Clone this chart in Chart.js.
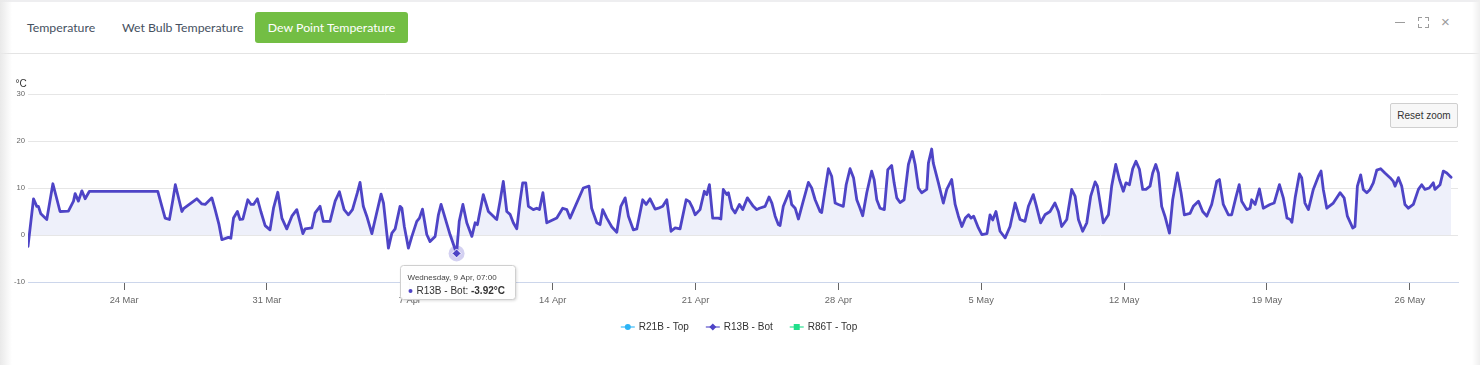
<!DOCTYPE html>
<html>
<head>
<meta charset="utf-8">
<script src="https://cdn.jsdelivr.net/npm/chart.js@4.4.1/dist/chart.umd.min.js"></script>
<style>
html,body{margin:0;padding:0;width:1480px;height:365px;overflow:hidden;background:#fff;}
#leftShade{position:absolute;left:0;top:0;width:12px;height:365px;background:linear-gradient(to right,#e9e9e9,rgba(255,255,255,0));}
#rightShade{position:absolute;right:0;top:0;width:8px;height:365px;background:linear-gradient(to left,#efefef,rgba(255,255,255,0));}
#topShade{position:absolute;left:0;top:0;width:1480px;height:2px;background:#eeeef0;}
#header{position:absolute;left:0;top:0;width:1480px;height:53px;border-bottom:1px solid #e4e4e4;font-family:Lato,"Open Sans",sans-serif;}
.tab{position:absolute;top:12px;height:31px;line-height:31px;font-size:12.3px;color:#46515f;white-space:nowrap;}
.tab.active{background:#73be44;color:#fff;border-radius:3px;text-align:center;}
.icon{position:absolute;}
#cv{position:absolute;left:0;top:0;}
#reset{position:absolute;left:1390px;top:103px;width:66px;height:23px;border:1px solid #cfcfcf;border-radius:2px;background:#f7f7f7;font:10px "Liberation Sans",Arial,sans-serif;color:#333;text-align:center;line-height:23px;}
</style>
</head>
<body>
<div id="topShade"></div>
<div id="header">
  <div class="tab" style="left:27px;">Temperature</div>
  <div class="tab" style="left:122px;">Wet Bulb Temperature</div>
  <div class="tab active" style="left:255px;width:153px;">Dew Point Temperature</div>
  <div class="icon" style="left:1395px;top:22px;width:10px;height:1px;background:#9c9c9c;"></div>
  <div class="icon" style="left:1418px;top:17px;width:3px;height:3px;border-left:1px solid #9c9c9c;border-top:1px solid #9c9c9c;"></div>
  <div class="icon" style="left:1425px;top:17px;width:3px;height:3px;border-right:1px solid #9c9c9c;border-top:1px solid #9c9c9c;"></div>
  <div class="icon" style="left:1418px;top:24px;width:3px;height:3px;border-left:1px solid #9c9c9c;border-bottom:1px solid #9c9c9c;"></div>
  <div class="icon" style="left:1425px;top:24px;width:3px;height:3px;border-right:1px solid #9c9c9c;border-bottom:1px solid #9c9c9c;"></div>
  <div class="icon" style="left:1441px;top:13px;font:15px 'Liberation Sans',Arial;color:#9c9c9c;">×</div>
</div>
<div id="leftShade"></div>
<div id="rightShade"></div>
<canvas id="cv" width="1480" height="365"></canvas>
<div id="reset">Reset zoom</div>
<script>
// ---- data (x = days after 24 Mar 00:00) ----
const times = [
-4.71,-4.44,-4.28,-4.20,-4.08,-3.79,-3.49,-3.14,-2.73,-2.48,-2.40,-2.24,-2.07,-1.91,-1.70,
1.65,1.85,2.01,2.22,2.39,2.51,2.83,2.91,3.56,3.81,3.97,4.30,4.46,4.65,4.79,5.11,5.23,5.36,5.55,5.68,5.82,
6.06,6.22,6.34,6.53,6.70,6.91,7.15,7.32,7.53,7.73,7.97,8.22,8.46,8.76,8.87,9.20,9.36,9.60,9.76,10.09,
10.34,10.55,10.78,10.99,11.19,11.43,11.56,11.72,11.89,12.14,12.30,12.59,12.71,12.95,13.12,13.28,13.52,13.61,
13.73,13.93,14.10,14.34,14.47,14.62,14.83,14.99,15.24,15.40,15.53,15.73,15.97,16.29,16.42,16.60,16.79,17.04,
17.20,17.31,17.60,17.85,18.18,18.26,18.42,18.58,18.75,18.91,19.07,19.24,19.40,19.53,19.68,19.81,20.05,20.22,
20.35,20.52,20.71,21.20,21.49,21.69,21.85,22.50,22.78,22.91,23.16,23.32,23.45,23.65,23.90,24.14,24.34,24.55,
24.71,24.95,25.12,25.41,25.58,25.77,26.02,26.18,26.39,26.59,26.80,27.00,27.24,27.54,27.70,27.86,27.98,28.22,
28.43,28.55,28.68,28.84,29.12,29.24,29.36,29.53,29.61,29.78,29.94,30.15,30.31,30.54,30.83,31.00,31.13,31.41,
31.60,31.74,31.90,32.06,32.14,32.30,32.60,32.71,32.88,33.04,33.25,33.53,33.69,33.86,34.10,34.18,34.35,34.51,
34.67,34.84,35.00,35.24,35.38,35.57,35.74,35.90,36.06,36.19,36.39,36.63,36.75,36.88,37.04,37.25,37.42,37.61,
37.73,37.86,38.02,38.22,38.43,38.62,38.76,38.92,39.08,39.33,39.41,39.57,39.65,39.90,40.14,40.31,40.55,40.72,
40.88,41.05,41.22,41.38,41.50,41.63,41.86,42.03,42.28,42.43,42.56,42.72,42.92,43.17,43.41,43.66,43.90,44.14,
44.31,44.55,44.68,44.91,45.12,45.37,45.61,45.78,45.94,46.19,46.43,46.60,46.76,46.97,47.17,47.36,47.58,47.69,
47.98,48.23,48.39,48.59,48.77,48.96,49.09,49.26,49.42,49.58,49.75,49.91,50.07,50.27,50.40,50.55,50.68,50.84,
51.00,51.22,51.38,51.61,51.79,51.95,52.23,52.39,52.64,52.85,53.05,53.29,53.54,53.67,53.86,54.11,54.27,54.47,
54.64,54.76,55.01,55.17,55.25,55.42,55.63,55.82,55.99,56.15,56.35,56.61,56.80,56.98,57.14,57.22,57.38,57.59,
57.70,57.86,58.03,58.27,58.52,58.65,58.76,58.93,59.25,59.58,59.78,59.94,60.20,60.31,60.43,60.59,60.72,60.89,
61.05,61.21,61.38,61.57,61.78,62.03,62.19,62.28,62.44,62.60,62.76,62.93,63.17,63.42,63.58,63.74,63.95,64.15,
64.23,64.48,64.64,64.81,65.02
];
const dewR13B = [
-2.4,7.7,6.1,6.1,4.5,3.3,10.9,5.0,5.1,7.2,8.8,7.2,9.4,7.7,9.3,
9.3,6.1,3.6,3.3,7.5,10.7,5.0,5.6,7.7,6.6,6.5,7.9,5.4,2.2,-1.0,-0.5,-0.7,3.6,5.0,3.3,3.4,
7.5,6.5,6.5,7.7,5.0,2.0,1.1,5.7,9.1,3.6,1.3,4.0,5.4,0.3,1.3,1.5,4.7,6.1,2.9,2.9,
7.2,9.2,5.4,4.3,5.4,9.0,11.2,6.1,4.0,0.3,3.3,8.7,6.8,-2.8,0.4,1.3,6.1,5.7,
1.8,-2.8,-0.3,2.9,3.6,5.5,0.1,-1.4,-0.3,4.3,6.5,3.6,0.1,-3.92,2.9,6.5,2.6,-0.3,
2.6,2.2,8.6,5.0,3.6,3.3,7.2,11.4,5.0,4.4,2.6,1.3,7.2,11.1,11.1,6.1,5.4,5.7,
5.4,9.0,2.6,3.6,5.7,5.4,3.6,10.0,10.4,5.7,2.6,2.2,5.4,3.6,1.7,0.6,6.1,7.9,
4.0,1.1,1.3,7.5,6.5,7.7,5.5,5.7,6.1,7.5,0.8,1.5,1.3,7.5,7.1,5.7,4.3,5.4,
9.3,8.6,10.7,3.6,3.6,3.4,9.7,8.6,9.0,5.7,4.7,6.5,5.4,7.9,6.1,5.4,5.7,6.1,
8.1,6.8,4.0,2.2,2.0,6.1,9.3,6.5,5.7,3.4,6.8,11.2,10.0,7.5,5.0,4.8,9.7,14.1,
12.5,6.8,6.5,6.1,10.7,14.1,12.2,7.5,5.7,4.1,9.0,13.6,11.8,7.5,5.7,5.4,13.9,14.8,
11.1,7.9,6.9,7.5,15.0,17.8,15.0,10.0,9.0,9.7,15.3,18.3,15.3,11.1,6.8,9.7,11.8,6.5,
4.0,1.8,3.6,4.3,3.6,4.0,1.5,0.1,0.3,4.3,3.2,5.0,0.8,-0.6,1.8,6.8,3.3,2.9,
6.1,8.6,6.5,2.6,4.3,5.0,6.8,5.0,1.8,3.3,9.7,8.2,3.3,0.8,2.6,8.2,11.3,10.4,
2.6,4.3,10.4,15.0,11.8,9.3,11.1,10.7,14.1,15.7,14.0,9.7,9.7,10.4,13.2,15.0,13.2,6.1,
4.0,0.4,7.5,13.2,9.0,4.3,4.6,6.1,7.2,5.0,4.0,6.5,11.4,11.8,6.5,4.3,4.3,7.9,
10.7,7.2,5.4,5.7,7.5,6.5,9.8,5.7,6.1,6.5,6.8,10.7,7.9,3.6,3.3,2.7,7.9,13.0,
12.2,6.8,5.4,9.7,12.5,13.6,9.7,5.7,6.8,9.0,7.9,4.0,1.5,1.8,10.4,12.8,9.7,9.0,
9.7,11.1,13.8,14.1,13.2,12.2,11.4,10.4,12.2,10.4,6.5,5.7,6.5,9.7,10.7,9.7,10.0,11.1,
9.7,10.7,13.6,13.2,12.3
];
const dewR21B = [];   // hidden behind R13B (inactive series)
const dewR86T = [];   // hidden behind R13B (inactive series)
const seriesNames = ['R21B - Top', 'R13B - Bot', 'R86T - Top'];
const seriesColors = ['#2cb4f6', '#4e44c6', '#1fdf8a'];
const seriesMarkers = ['circle', 'diamond', 'square'];
const yTicks = [-10, 0, 10, 20, 30];
const xTickDays = [0, 7, 14, 21, 28, 35, 42, 49, 56, 63];
const xTickLabels = ['24 Mar', '31 Mar', '7 Apr', '14 Apr', '21 Apr', '28 Apr', '5 May', '12 May', '19 May', '26 May'];
const yUnit = '°C';
const hoverIndex = times.indexOf(16.29);
const hoverTitle = 'Wednesday, 9 Apr, 07:00';

const FONT = '"Liberation Sans", Arial, sans-serif';
function toXY(t, v) { return t.map((x, i) => ({ x: x, y: v[i] })); }

function drawMarker(ctx, kind, x, y, r, color) {
  ctx.fillStyle = color;
  ctx.beginPath();
  if (kind === 'circle') ctx.arc(x, y, r, 0, Math.PI * 2);
  else if (kind === 'diamond') { ctx.moveTo(x, y - r); ctx.lineTo(x + r, y); ctx.lineTo(x, y + r); ctx.lineTo(x - r, y); ctx.closePath(); }
  else ctx.rect(x - r, y - r, 2 * r, 2 * r);
  ctx.fill();
}

const extras = {
  id: 'extras',
  afterDraw(chart) {
    const ctx = chart.ctx;
    ctx.save();
    ctx.font = '10px ' + FONT; ctx.fillStyle = '#333'; ctx.textBaseline = 'middle'; ctx.textAlign = 'left';
    ctx.fillText(yUnit, 15.5, 84);
    ctx.font = '10px ' + FONT;
    const widths = seriesNames.map(n => ctx.measureText(n).width);
    const symW = 14, gapT = 4, gapI = 17;
    const total = widths.reduce((s, w) => s + symW + gapT + w, 0) + gapI * (seriesNames.length - 1);
    let x = 739 - total / 2; const y = 327;
    seriesNames.forEach((n, i) => {
      const c = seriesColors[i];
      ctx.globalAlpha = 0.55; ctx.strokeStyle = c; ctx.lineWidth = 2;
      ctx.beginPath(); ctx.moveTo(x, y); ctx.lineTo(x + symW, y); ctx.stroke();
      ctx.globalAlpha = 1;
      drawMarker(ctx, seriesMarkers[i], x + symW / 2, y, seriesMarkers[i] === 'diamond' ? 3.5 : 3, c);
      ctx.fillStyle = '#333'; ctx.textAlign = 'left'; ctx.textBaseline = 'middle';
      ctx.fillText(n, x + symW + gapT, y);
      x += symW + gapT + widths[i] + gapI;
    });
    const meta = chart.getDatasetMeta(1);
    const el = meta.data[hoverIndex];
    if (el) {
      const px = el.x, py = el.y, col = seriesColors[1];
      ctx.globalAlpha = 0.25; ctx.fillStyle = col;
      ctx.beginPath(); ctx.arc(px, py, 8, 0, Math.PI * 2); ctx.fill();
      ctx.globalAlpha = 1;
      ctx.strokeStyle = '#fff'; ctx.lineWidth = 1;
      ctx.beginPath(); ctx.moveTo(px, py - 4.5); ctx.lineTo(px + 4.5, py); ctx.lineTo(px, py + 4.5); ctx.lineTo(px - 4.5, py); ctx.closePath();
      ctx.fillStyle = col; ctx.fill(); ctx.stroke();
      const bx = Math.round(px - 57) + 0.5, by = Math.round(py + 12) + 0.5, bw = 115, bh = 34;
      ctx.save();
      ctx.shadowColor = 'rgba(0,0,0,0.18)'; ctx.shadowBlur = 3; ctx.shadowOffsetX = 1; ctx.shadowOffsetY = 1;
      ctx.fillStyle = 'rgba(255,255,255,0.97)';
      ctx.beginPath(); ctx.roundRect(bx, by, bw, bh, 3); ctx.fill();
      ctx.restore();
      ctx.strokeStyle = '#cfcfcf'; ctx.lineWidth = 1;
      ctx.beginPath(); ctx.roundRect(bx, by, bw, bh, 3); ctx.stroke();
      ctx.textAlign = 'left'; ctx.textBaseline = 'middle';
      ctx.font = '8px ' + FONT; ctx.fillStyle = '#444';
      ctx.fillText(hoverTitle, bx + 7, by + 12);
      ctx.fillStyle = col; ctx.beginPath(); ctx.arc(bx + 10, by + 25.5, 2, 0, Math.PI * 2); ctx.fill();
      ctx.font = '10px ' + FONT; ctx.fillStyle = '#333';
      const lab = seriesNames[1] + ': ';
      ctx.fillText(lab, bx + 16, by + 25.5);
      const lw = ctx.measureText(lab).width;
      ctx.font = 'bold 10px ' + FONT;
      ctx.fillText(dewR13B[hoverIndex].toFixed(2) + yUnit, bx + 16 + lw, by + 25.5);
    }
    ctx.restore();
  }
};

new Chart(document.getElementById('cv'), {
  type: 'line',
  data: {
    datasets: [
      { label: seriesNames[0], data: toXY(times.slice(0, dewR21B.length), dewR21B), borderColor: 'rgba(44,180,246,0.2)', borderWidth: 2, pointRadius: 0, fill: false, order: 2 },
      { label: seriesNames[1], data: toXY(times, dewR13B), borderColor: seriesColors[1], borderWidth: 2.8, pointRadius: 0, fill: 'origin', backgroundColor: '#eef0fa', order: 1 },
      { label: seriesNames[2], data: toXY(times.slice(0, dewR86T.length), dewR86T), borderColor: 'rgba(31,223,138,0.2)', borderWidth: 2, pointRadius: 0, fill: false, order: 3 }
    ]
  },
  options: {
    responsive: false, animation: false, devicePixelRatio: 1,
    layout: { padding: { left: 0, right: 22, top: 94, bottom: 0 } },
    plugins: { legend: { display: false }, tooltip: { enabled: false } },
    elements: { line: { tension: 0, borderJoinStyle: 'round', borderCapStyle: 'round' }, point: { radius: 0 } },
    scales: {
      x: {
        type: 'linear', min: -4.71, max: 65.36,
        afterBuildTicks: s => { s.ticks = xTickDays.map(v => ({ value: v })); },
        afterFit: s => { s.height = 83; },
        ticks: { autoSkip: false, maxRotation: 0, padding: 5, color: '#666', font: { family: FONT, size: 9.3 },
                 callback: (v) => xTickLabels[xTickDays.indexOf(v)] },
        grid: { drawOnChartArea: false, drawTicks: true, tickLength: 8, tickColor: '#666', tickWidth: 1 },
        border: { display: true, color: '#ccd6eb', width: 1 }
      },
      y: {
        min: -10, max: 30,
        afterBuildTicks: s => { s.ticks = yTicks.map(v => ({ value: v })); },
        afterFit: s => { s.width = 28; },
        ticks: { padding: 3, color: '#666', font: { family: FONT, size: 7.7 } },
        grid: { drawTicks: false, color: c => (c.tick && c.tick.value === -10 ? '#ccd6eb' : '#e6e6e6'), lineWidth: 1 },
        border: { display: false }
      }
    }
  },
  plugins: [extras]
});
</script>
</body>
</html>
